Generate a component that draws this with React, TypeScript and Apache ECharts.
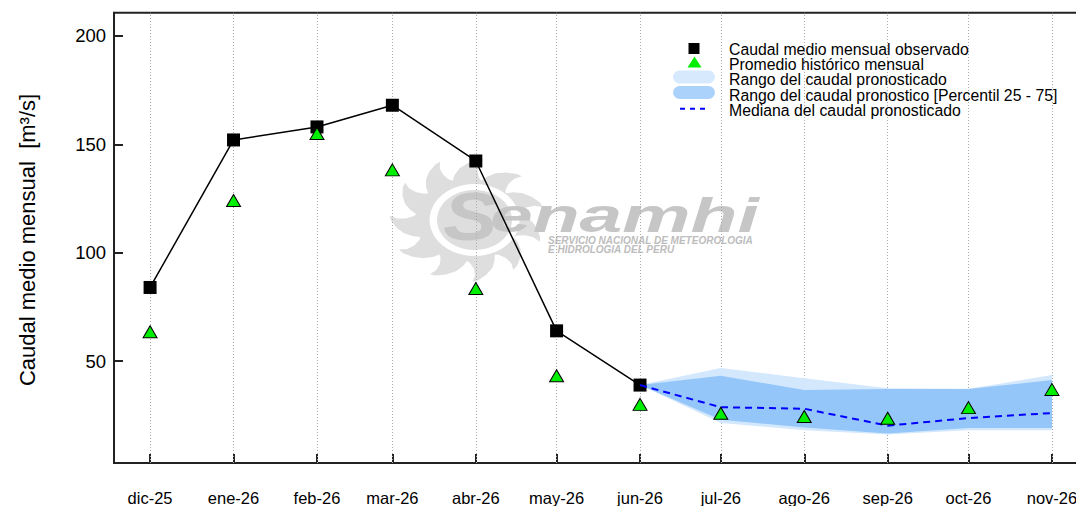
import React, { useEffect, useRef } from "react";
import * as echarts from "echarts";

// ---- data ----
const months = ["dic-25", "ene-26", "feb-26", "mar-26", "abr-26", "may-26", "jun-26", "jul-26", "ago-26", "sep-26", "oct-26", "nov-26"];
const observed = [84, 152, 158, 168, 142.3, 64, 39];
const historical = [63.6, 124.1, 155, 138.2, 83.5, 43.3, 30.1, 26, 24.5, 23.7, 28.6, 37];
// forecast months: jun-26 .. nov-26
const fcMax = [39, 46.9, 42.1, 37.5, 37.3, 43.6];
const fcP75 = [39, 43.3, 36.7, 37.2, 37.2, 41.3];
const fcMedian = [39, 28.8, 28.1, 20.3, 23.8, 26.1];
const fcP25 = [39, 23.0, 19.5, 16.7, 19.2, 19.2];
const fcMin = [39, 21.5, 18.2, 16.2, 18.2, 18.2];
const yTicks = [50, 100, 150, 200];
const legendLabels = [
  "Caudal medio mensual observado",
  "Promedio histórico mensual",
  "Rango del caudal pronosticado",
  "Rango del caudal pronostico [Percentil 25 - 75]",
  "Mediana del caudal pronosticado",
];
const yTitle = "Caudal medio mensual  [m³/s]";

const FONT = "'Liberation Sans', Arial, sans-serif";
const DAY = 86400000;
const monthX = months.map((_, i) => Date.UTC(2025, 11 + i, 1) / DAY);
const span = monthX[monthX.length - 1] - monthX[0];
const xMin = monthX[0] - 0.04 * span;
const xMax = monthX[monthX.length - 1] + 0.04 * span;
const fcX = monthX.slice(6);

function zip(xs: number[], ys: number[]) {
  return ys.map((y, i) => [xs[i], y]);
}

// decorative sun outline of the watermark logo
function sunPoints() {
  const pts: number[][] = [];
  const N = 11;
  const s = (2 * Math.PI) / N;
  const pt = (ang: number, r: number) => [r * Math.cos(ang), r * Math.sin(ang)];
  for (let k = 0; k < N; k++) {
    const a = k * s - Math.PI / 2;
    pts.push(pt(a - 0.5 * s, 41));
    pts.push(pt(a - 0.38 * s, 46));
    pts.push(pt(a - 0.2 * s, 52));
    pts.push(pt(a + 0.02 * s, 57));
    pts.push(pt(a + 0.25 * s, 61));
    pts.push(pt(a + 0.38 * s, 62));
    pts.push(pt(a + 0.3 * s, 56));
    pts.push(pt(a + 0.3 * s, 49));
    pts.push(pt(a + 0.4 * s, 43));
  }
  return pts;
}

function bandSeries(upper: number[], lower: number[], color: string, z: number) {
  return {
    type: "custom",
    z,
    silent: true,
    data: [[fcX[0], upper[0]]],
    encode: { x: 0, y: 1 },
    renderItem: (_params: any, api: any) => {
      const top = fcX.map((x, i) => api.coord([x, upper[i]]));
      const bot = fcX.map((x, i) => api.coord([x, lower[i]])).reverse();
      return { type: "polygon", shape: { points: top.concat(bot) }, style: { fill: color } };
    },
  };
}

export default function App() {
  const ref = useRef<HTMLDivElement>(null);
  useEffect(() => {
    if (!ref.current) return;
    const chart = echarts.init(ref.current, null, { renderer: "svg" });
    const legendY = [49.5, 64, 79, 95, 110];
    const option: any = {
      animation: false,
      backgroundColor: "#fff",
      textStyle: { fontFamily: FONT },
      grid: {
        left: 114,
        top: 12.7,
        right: 12,
        bottom: 39,
        show: true,
        borderColor: "#222",
        borderWidth: 2,
        backgroundColor: "transparent",
      },
      xAxis: {
        type: "value",
        min: xMin,
        max: xMax,
        axisLine: { show: true, onZero: false, lineStyle: { color: "#222", width: 2 } },
        axisTick: { show: true, inside: true, length: 9, customValues: monthX, lineStyle: { color: "#222", width: 2 } },
        axisLabel: {
          customValues: monthX,
          margin: 26,
          fontSize: 16.5,
          color: "#000",
          fontFamily: FONT,
          formatter: (v: number) => {
            const i = monthX.findIndex((m) => Math.abs(m - v) < 0.5);
            return i >= 0 ? months[i] : "";
          },
        },
        splitLine: { show: false },
      },
      yAxis: {
        type: "value",
        min: 3.08,
        max: 210.66,
        axisLine: { show: true, lineStyle: { color: "#222", width: 2 } },
        axisTick: { show: true, inside: true, length: 9, customValues: yTicks, lineStyle: { color: "#222", width: 2 } },
        axisLabel: { customValues: yTicks, margin: 8, fontSize: 18.5, color: "#000", fontFamily: FONT },
        splitLine: { show: false },
      },
      series: [
        {
          type: "line",
          data: [],
          z: 1,
          silent: true,
          markLine: {
            z: 1,
            silent: true,
            symbol: ["none", "none"],
            label: { show: false },
            lineStyle: { type: [1, 2], color: "#aaaaaa", width: 1 },
            emphasis: { disabled: true },
            data: monthX.map((x) => ({ xAxis: x })),
          },
        },
        bandSeries(fcMax, fcMin, "#d4e8fd", 2),
        bandSeries(fcP75, fcP25, "#94c6fa", 2),
        {
          type: "line",
          data: zip(monthX, observed),
          symbol: "rect",
          symbolSize: 13,
          itemStyle: { color: "#000", borderWidth: 0, borderColor: "#000" },
          lineStyle: { color: "#000", width: 1.5 },
          z: 3,
          silent: true,
        },
        {
          type: "line",
          data: zip(fcX, fcMedian),
          symbol: "none",
          lineStyle: { color: "#0000ff", width: 2, type: [7, 5] },
          z: 4,
          silent: true,
        },
        {
          type: "scatter",
          data: zip(monthX, historical),
          symbol: "triangle",
          symbolSize: [14, 12],
          itemStyle: { color: "#00ee00", borderColor: "#000", borderWidth: 1, opacity: 1 },
          z: 5,
          silent: true,
        },
      ],
      graphic: [
        // watermark
        {
          type: "group",
          x: 467,
          y: 220,
          scaleX: 1.25,
          z: 0,
          silent: true,
          children: [
            { type: "polygon", shape: { points: sunPoints() }, style: { fill: "#dedede" }, z: 0 },
            { type: "ring", shape: { cx: 6, cy: 0, r: 36, r0: 30 }, style: { fill: "#ffffff" }, z: 0 },
          ],
        },
        {
          type: "text",
          x: 443,
          y: 216,
          z: 0,
          silent: true,
          scaleX: 1.2,
          style: { text: "S", fontSize: 68, fontWeight: "bold", fontStyle: "italic", fontFamily: FONT, fill: "#c6c6c6", verticalAlign: "middle", align: "left" },
        },
        {
          type: "text",
          x: 490,
          y: 216,
          z: 0,
          silent: true,
          scaleX: 1.6,
          style: { text: "enamhi", fontSize: 48, fontWeight: "bold", fontStyle: "italic", fontFamily: FONT, fill: "#c6c6c6", verticalAlign: "middle", align: "left" },
        },
        {
          type: "text",
          x: 548,
          y: 240,
          z: 0,
          silent: true,
          style: { text: "SERVICIO NACIONAL DE METEOROLOGIA", fontSize: 10, fontWeight: "bold", fontStyle: "italic", fontFamily: FONT, fill: "#bdbdbd", verticalAlign: "middle", align: "left", lineHeight: 9 },
        },
        {
          type: "text",
          x: 548,
          y: 249,
          z: 0,
          silent: true,
          style: { text: "E HIDROLOGIA DEL PERU", fontSize: 10, fontWeight: "bold", fontStyle: "italic", fontFamily: FONT, fill: "#bdbdbd", verticalAlign: "middle", align: "left", lineHeight: 9 },
        },
        // y axis title
        {
          type: "text",
          x: 27,
          y: 240,
          rotation: Math.PI / 2,
          z: 10,
          style: { text: yTitle, fontSize: 22, fontFamily: FONT, fill: "#000", align: "center", verticalAlign: "middle" },
        },
        // legend
        { type: "rect", z: 10, shape: { x: 688.5, y: 43, width: 11, height: 11 }, style: { fill: "#000" } },
        { type: "polygon", z: 10, shape: { points: [[694.5, 56.5], [701.5, 67.5], [687.5, 67.5]] }, style: { fill: "#00ee00" } },
        { type: "rect", z: 10, shape: { x: 673, y: 70.5, width: 42, height: 13, r: 6.5 }, style: { fill: "#d6e9fd" } },
        { type: "rect", z: 10, shape: { x: 673, y: 86, width: 42, height: 13, r: 6.5 }, style: { fill: "#abd2fb" } },
        { type: "line", z: 10, shape: { x1: 680, y1: 108.7, x2: 708, y2: 108.7 }, style: { stroke: "#0000ff", lineWidth: 2, lineDash: [5, 5] } },
        ...legendLabels.map((t, i) => ({
          type: "text",
          z: 10,
          x: 729,
          y: legendY[i],
          style: { text: t, fontSize: 15.8, lineHeight: 14, fontFamily: FONT, fill: "#000", align: "left", verticalAlign: "middle" },
        })),
      ],
    };
    chart.setOption(option);
    return () => chart.dispose();
  }, []);
  return <div ref={ref} style={{ position: "fixed", left: 0, top: 0, width: 1100, height: 506 }} />;
}
